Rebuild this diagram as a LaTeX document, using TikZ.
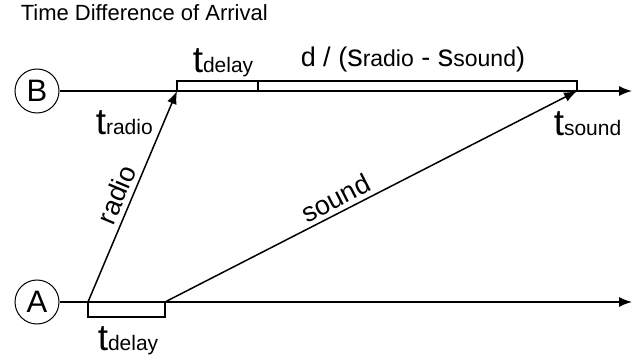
\documentclass[tikz,border=0pt]{standalone}
\usepackage{fontspec}
\setmainfont{Liberation Sans}
\usetikzlibrary{arrows.meta}
\newcommand\bigTfont{\fontsize{37}{37}\selectfont}
\newcommand\subfont{\fontsize{21}{21}\selectfont}
\newcommand\fsubfont{\fontsize{23}{23}\selectfont}
\newcommand\midfont{\fontsize{27}{27}\selectfont}
\newcommand\bigSfont{\fontsize{31}{31}\selectfont}
\newcommand\tlab[1]{{\bigTfont t}{\subfont #1}}
\begin{document}
\begin{tikzpicture}[x=1pt,y=-1pt, line width=1.5pt,
  tip/.style={-{Latex[length=13pt,width=10pt]}},
  station/.style={circle, draw, line width=1pt, minimum size=44pt, inner sep=0pt, font=\fontsize{31}{31}\selectfont},
  lab/.style={anchor=base west, inner sep=0pt},
  wordlab/.style={inner sep=0pt, font=\fontsize{27}{27}\selectfont},
  bracket/.style={line width=1.3pt}]
\useasboundingbox (0,0) rectangle (632,358);
\node[lab, font=\fontsize{22}{22}\selectfont] (title) at (20,21) {Time Difference of Arrival};
\node[station] (B) at (37,91) {B};
\node[station] (A) at (37,302) {A};
\coordinate (Bend) at (632,91);
\coordinate (Aend) at (632,302);
\coordinate (Atx) at (88,302);
\coordinate (Asnd) at (165,302);
\coordinate (Brad) at (177,91);
\coordinate (Bsnd) at (577,91);
\coordinate (Bmid) at (258,91);
\draw[tip] (B) -- (Bend);
\draw[tip] (A) -- (Aend);
\draw[bracket] (Brad) -- ([yshift=10pt]Brad) -- ([yshift=10pt]Bsnd) -- (Bsnd);
\draw[bracket] (Bmid) -- ([yshift=10pt]Bmid);
\draw[bracket] (Atx) -- ([yshift=-15pt]Atx) -- ([yshift=-15pt]Asnd) -- (Asnd);
\draw[tip] (Atx) -- node[wordlab, sloped, above=5pt, pos=0.48] (radiolab) {radio} (Brad);
\draw[tip] (Asnd) -- node[wordlab, sloped, above=4pt, pos=0.43] (soundlab) {sound} (Bsnd);
\node[lab] (tdelayB) at (192,73) {\tlab{delay}};
\node[lab] (formula) at (300,67) {\midfont d / ({\bigSfont s}{\fsubfont radio} - {\bigSfont s}{\fsubfont sound})};
\node[lab] (tradio) at (95,135) {\tlab{radio}};
\node[lab] (tsound) at (553,136) {\tlab{sound}};
\node[lab] (tdelayA) at (97,350) {\tlab{delay}};
\end{tikzpicture}
\end{document}
